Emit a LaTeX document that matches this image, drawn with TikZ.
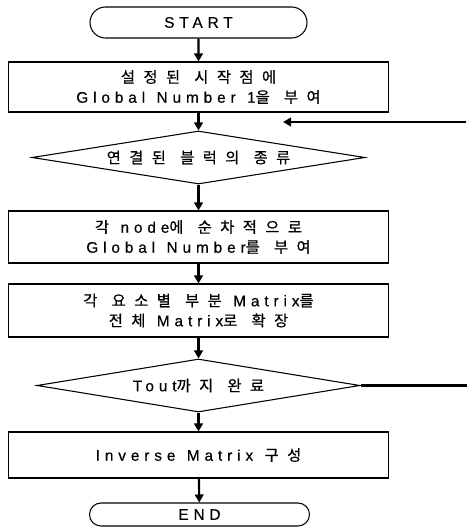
\documentclass[tikz,border=0pt]{standalone}
\usepackage{fontspec}
\setmainfont[LetterSpace=32,FakeBold=0.4,WordSpace=1.25]{Liberation Sans}
\newfontfamily\krfont[LetterSpace=55,FakeBold=0.6,WordSpace=1.2]{Noto Sans CJK KR}
\usetikzlibrary{arrows.meta,shapes.geometric,shapes.misc}
\newcommand{\K}[1]{{\krfont #1}}
\tikzset{
  base/.style={draw, line width=0.8pt, inner sep=0pt, align=center,
    font=\fontsize{11.5}{15}\selectfont},
  procbox/.style={base, rectangle, minimum width=285pt},
  term/.style={base, rounded rectangle},
  decision/.style={base, diamond, aspect=6.3},
  arr/.style={line width=1.6pt, -{Triangle[length=6pt,width=6.5pt]}},
  fbline/.style={line width=1.6pt}
}
\begin{document}
\begin{tikzpicture}[x=0.75pt,y=-0.75pt]
\useasboundingbox (0,0) rectangle (468,528);
\node[term, minimum width=162.75pt, minimum height=23.25pt] (start) at (198.5,22.5) {START};
\node[procbox, minimum height=37.5pt] (b1) at (198.5,87) {\K{설정된 시작점에}\\Global Number 1\K{을 부여}};
\node[decision, minimum width=249.75pt, minimum height=39.75pt] (d1) at (198.5,157.5) {\K{연결된 블럭의 종류}};
\node[procbox, minimum height=39pt] (b2) at (198.5,237) {\K{각} node\K{에 순차적으로}\\Global Number\K{를 부여}};
\node[procbox, minimum height=39.75pt] (b3) at (198.5,310.5) {\K{각 요소별 부분} Matrix\K{를}\\\K{전체} Matrix\K{로 확장}};
\node[decision, minimum width=242.25pt, minimum height=39.75pt] (d2) at (198.5,385.5) {Tout\K{까지 완료}};
\node[procbox, minimum height=34.5pt] (b4) at (198.5,455) {Inverse Matrix \K{구성}};
\node[term, minimum width=165pt, minimum height=17.25pt] (end) at (199.5,514.5) {END};
\coordinate (fbR) at (466,122);
\coordinate (fbL) at (283,122);
\coordinate (d2R) at (467,385.5);
\draw[arr] (start) -- (b1);
\draw[arr] (b1) -- (d1);
\draw[arr] (d1) -- (b2);
\draw[arr] (b2) -- (b3);
\draw[arr] (b3) -- (d2);
\draw[arr] (d2) -- (b4);
\draw[arr] (b4) -- (end);
\draw[arr] (fbR) -- (fbL);
\draw[fbline] (d2.east) -- (d2R);
\end{tikzpicture}
\end{document}
